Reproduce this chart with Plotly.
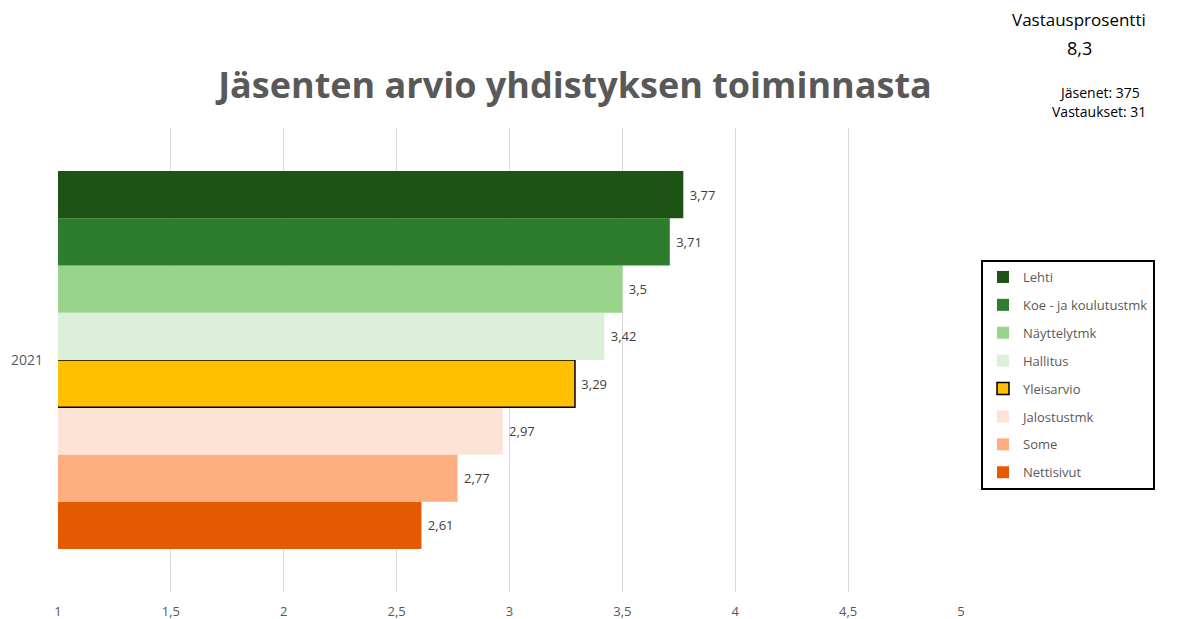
import plotly.graph_objects as go

categories = ["Lehti", "Koe - ja koulutustmk", "Näyttelytmk", "Hallitus",
              "Yleisarvio", "Jalostustmk", "Some", "Nettisivut"]
values = [3.77, 3.71, 3.5, 3.42, 3.29, 2.97, 2.77, 2.61]
colors = ["#1e5316", "#2e7d2e", "#98d48a", "#dcefd9",
          "#ffc000", "#fde3d5", "#ffae80", "#e35a00"]
year = ["2021"]
x_ticks = [1, 1.5, 2, 2.5, 3, 3.5, 4, 4.5, 5]
x_tick_labels = ["1", "1,5", "2", "2,5", "3", "3,5", "4", "4,5", "5"]

FONT = "Open Sans"
fig = go.Figure()
items = list(enumerate(zip(categories, values, colors)))
for rank, (name, val, col) in reversed(items):
    is_main = name == "Yleisarvio"
    fig.add_trace(go.Bar(
        y=year, x=[val], base=0, name=name, orientation="h",
        legendrank=rank + 1, legendgroup=f"g{rank}",
        marker=dict(color=col,
                    line=dict(color="#000000" if is_main else col, width=1.5 if is_main else 0)),
        text=["\u00a0" + f"{val:g}".replace(".", ",")], textposition="outside",
        textfont=dict(family=FONT, size=13, color="#404040"),
        cliponaxis=False,
    ))

fig.update_layout(
    width=1197, height=619,
    margin=dict(l=58, r=236, t=128, b=27, autoexpand=False),
    paper_bgcolor="white", plot_bgcolor="white",
    barmode="group", bargap=0.185, bargroupgap=0,
    separators=", ",
    font=dict(family=FONT, color="#595959"),
    title=dict(text="<b>Jäsenten arvio yhdistyksen toiminnasta</b>",
               x=575 / 1197, xanchor="center", y=1 - 85 / 619, yanchor="middle",
               font=dict(family=FONT, size=36, color="#595959")),
    legend=dict(x=(981 - 58) / 903, xanchor="left", y=(592 - 260) / 464, yanchor="top",
                bordercolor="#000000", borderwidth=2, bgcolor="white",
                traceorder="grouped", tracegroupgap=8, itemwidth=30,
                font=dict(family=FONT, size=13, color="#595959"),
                itemclick=False, groupclick="toggleitem"),
    xaxis=dict(range=[1, 5], tickvals=x_ticks, ticktext=x_tick_labels,
               showgrid=True, gridcolor="#d9d9d9", gridwidth=1, zeroline=False,
               showline=False, ticks="", ticklabelstandoff=10,
               tickfont=dict(family=FONT, size=13, color="#595959")),
    yaxis=dict(showgrid=False, zeroline=False, showline=False, ticks="",
               ticklabelstandoff=14,
               tickfont=dict(family=FONT, size=14, color="#595959")),
)

# annotation positions given in pixels, converted to paper coordinates
ann_specs = [
    ("Vastausprosentti", 1079, 20, 17),
    ("8,3", 1079, 48, 18),
    ("Jäsenet: 375", 1099, 93, 14),
    ("Vastaukset: 31", 1099, 112, 14),
]
fig.update_layout(annotations=[
    dict(text=t, xref="paper", yref="paper",
         x=(px - 58) / 903, y=(592 - py) / 464, xanchor="center", yanchor="middle",
         showarrow=False, font=dict(family=FONT, size=s, color="#000000"))
    for t, px, py, s in ann_specs
])

fig.write_html("out.html")
